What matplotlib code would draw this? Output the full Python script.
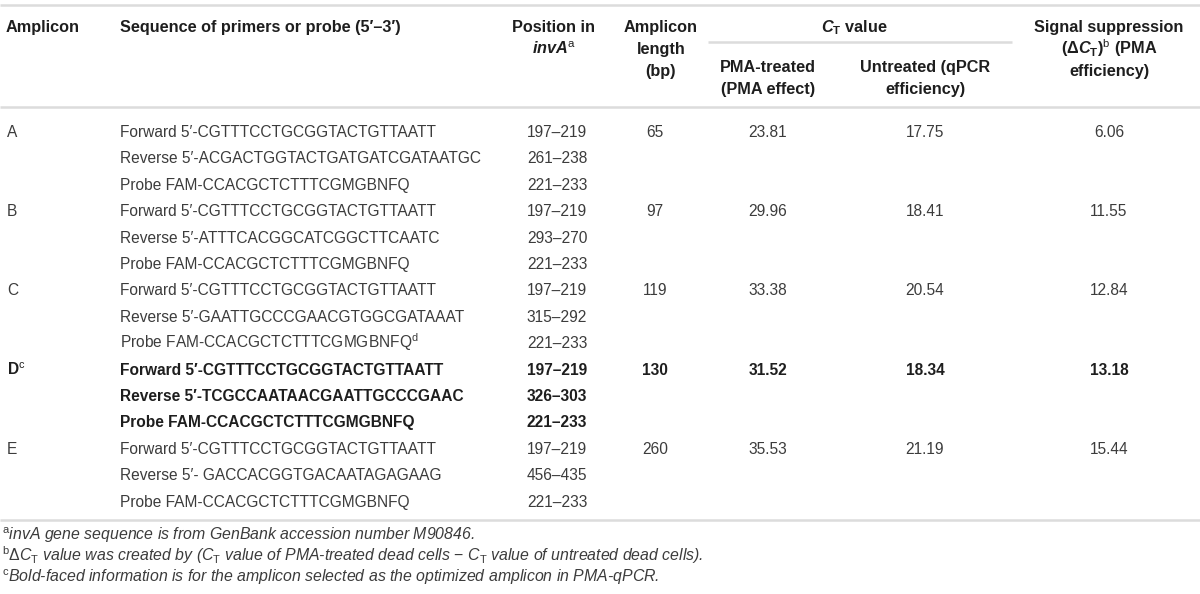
import matplotlib
matplotlib.use("Agg")
import matplotlib.pyplot as plt

plt.rcParams['font.family'] = ['Liberation Sans', 'DejaVu Sans']
plt.rcParams['mathtext.fontset'] = 'custom'
plt.rcParams['mathtext.rm'] = 'Liberation Sans'
plt.rcParams['mathtext.it'] = 'Liberation Sans:italic'
plt.rcParams['mathtext.bf'] = 'Liberation Sans:bold'
plt.rcParams['mathtext.bfit'] = 'Liberation Sans:italic:bold'

# table data
amplicons = ['A', 'B', 'C', 'D$^{\\mathrm{c}}$', 'E']
forward = ['CGTTTCCTGCGGTACTGTTAATT'] * 5
reverse = ['ACGACTGGTACTGATGATCGATAATGC', 'ATTTCACGGCATCGGCTTCAATC',
           'GAATTGCCCGAACGTGGCGATAAAT', 'TCGCCAATAACGAATTGCCCGAAC',
           ' GACCACGGTGACAATAGAGAAG']
probe = ['CCACGCTCTTTCGMGBNFQ'] * 5
probe_note = ['', '', '$^{\\mathrm{d}}$', '', '']
pos_forward = ['197–219', '197–219', '197–219', '197–219', '197–219']
pos_reverse = ['261–238', '293–270', '315–292', '326–303', '456–435']
pos_probe = ['221–233', '221–233', '221–233', '221–233', '221–233']
lengths = ['65', '97', '119', '130', '260']
ct_pma = ['23.81', '29.96', '33.38', '31.52', '35.53']
ct_untreated = ['17.75', '18.41', '20.54', '18.34', '21.19']
delta_ct = ['6.06', '11.55', '12.84', '13.18', '15.44']
selected = 3  # amplicon D in bold

footnotes = [
    '$^{\\mathrm{a}}$invA gene sequence is from GenBank accession number M90846.',
    '$^{\\mathrm{b}}\\Delta\\mathit{C}_{\\mathrm{T}}$ value was created by ($\\mathit{C}_{\\mathrm{T}}$ value of '
    'PMA-treated dead cells $-$ $\\mathit{C}_{\\mathrm{T}}$ value of untreated dead cells).',
    '$^{\\mathrm{c}}$Bold-faced information is for the amplicon selected as the optimized amplicon in PMA-qPCR.',
]

fig = plt.figure(figsize=(12, 5.94), dpi=100)
ax = fig.add_axes([0, 0, 1, 1])
ax.set_xlim(0, 1200)
ax.set_ylim(594, 0)
ax.axis('off')

fs_head = 11.7
fs = 11.2
dark = '#1e1e1e'
grey = '#3c3c3c'
rule = '#dcdcdc'

# rules
for yy in (5, 107, 520):
    ax.plot([0, 1200], [yy, yy], color=rule, lw=1.8, solid_capstyle='butt')
ax.plot([708, 1012], [42, 42], color=rule, lw=1.8, solid_capstyle='butt')

# header
hk = dict(fontsize=fs_head, fontweight='bold', color=dark, va='baseline')
ax.text(6, 32, 'Amplicon', ha='left', **hk)
ax.text(120, 32, 'Sequence of primers or probe (5′–3′)', ha='left', **hk)
ax.text(554, 32, 'Position in', ha='center', **hk)
ax.text(554, 54, '$\\mathbfit{invA}^{\\mathrm{a}}$', ha='center', **hk)
ax.text(661, 32, 'Amplicon', ha='center', **hk)
ax.text(661, 54, 'length', ha='center', **hk)
ax.text(661, 76, '(bp)', ha='center', **hk)
ax.text(854, 32, '$\\mathbfit{C}_{\\mathbf{T}}$ value', ha='center', **hk)
ax.text(768, 72, 'PMA-treated', ha='center', **hk)
ax.text(768, 94, '(PMA effect)', ha='center', **hk)
ax.text(925, 72, 'Untreated (qPCR', ha='center', **hk)
ax.text(925, 94, 'efficiency)', ha='center', **hk)
ax.text(1109, 32, 'Signal suppression', ha='center', **hk)
ax.text(1109, 54, '($\\mathbf{\\Delta}\\mathbfit{C}_{\\mathbf{T}}$)$^{\\mathrm{b}}$ (PMA', ha='center', **hk)
ax.text(1109, 76, 'efficiency)', ha='center', **hk)

# body
y0 = 137
step = 26.4
for i in range(len(lengths)):
    bold = i == selected
    kw = dict(fontsize=fs, va='baseline', color=dark if bold else grey,
              fontweight='bold' if bold else 'normal')
    ya = y0 + 3 * i * step
    yb = ya + step
    yc = ya + 2 * step
    ax.text(7, ya, amplicons[i], ha='left', **kw)
    ax.text(120, ya, 'Forward 5′-' + forward[i], ha='left', **kw)
    ax.text(120, yb, 'Reverse 5′-' + reverse[i], ha='left', **kw)
    ax.text(120, yc, 'Probe FAM-' + probe[i] + probe_note[i], ha='left', **kw)
    ax.text(557, ya, pos_forward[i], ha='center', **kw)
    ax.text(557, yb, pos_reverse[i], ha='center', **kw)
    ax.text(557, yc, pos_probe[i], ha='center', **kw)
    ax.text(655, ya, lengths[i], ha='center', **kw)
    ax.text(768, ya, ct_pma[i], ha='center', **kw)
    ax.text(925, ya, ct_untreated[i], ha='center', **kw)
    ax.text(1109, ya, delta_ct[i], ha='center', **kw)

# footnotes
for k, note in enumerate(footnotes):
    ax.text(2, 540 + 21 * k, note, ha='left', va='baseline', fontsize=11.4,
            style='italic', color=grey)

fig.savefig('out.png', dpi=100)
